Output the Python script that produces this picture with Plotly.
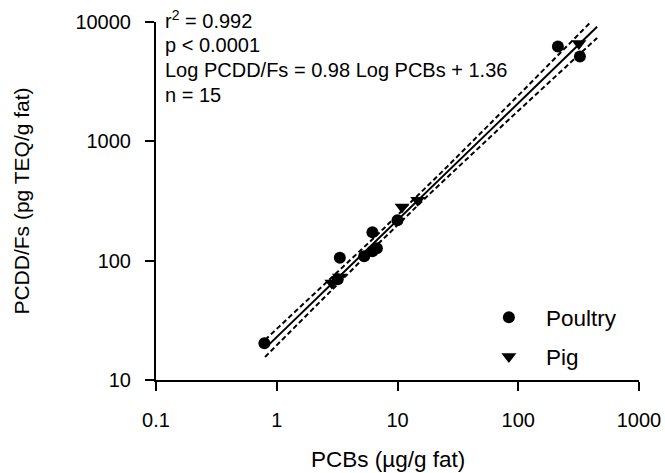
import numpy as np
import plotly.graph_objects as go

# ---- data ----
poultry_x = [0.79, 3.33, 3.2, 5.3, 6.2, 6.75, 6.2, 10.0, 213, 324]
poultry_y = [20.3, 106, 70, 109, 120, 127, 173, 218, 6240, 5140]
pig_x = [2.86, 3.3, 10.9, 14.7, 318]
pig_y = [65, 73, 281, 321, 6610]

slope = 0.98
intercept = 1.36
r_squared = 0.992
fit_x_range = [0.8, 450]

x_tickvals = [0.1, 1, 10, 100, 1000]
x_ticktext = ["0.1", "1", "10", "100", "1000"]
y_tickvals = [10, 100, 1000, 10000]
y_ticktext = ["10", "100", "1000", "10000"]

stats_lines = [
    "r<sup>2</sup> = 0.992",
    "p < 0.0001",
    "Log PCDD/Fs = 0.98 Log PCBs + 1.36",
    "n = 15",
]

# ---- regression line and 95% confidence band in log space ----
lx = np.log10(np.array(poultry_x + pig_x))
ly = np.log10(np.array(poultry_y + pig_y))
n = len(lx)
syy = np.sum((ly - ly.mean()) ** 2)
s = np.sqrt((1 - r_squared) * syy / (n - 2))
sxx = np.sum((lx - lx.mean()) ** 2)
t = 2.16
gx = np.linspace(np.log10(fit_x_range[0]), np.log10(fit_x_range[1]), 200)
gy = slope * gx + intercept
hw = t * s * np.sqrt(1 / n + (gx - lx.mean()) ** 2 / sxx)
fx = 10 ** gx

FONT = "Liberation Sans, Arial, sans-serif"
DASH = "5px,3px"

fig = go.Figure()
fig.add_trace(go.Scatter(x=fx, y=10 ** (gy + hw), mode="lines",
                         line=dict(color="black", width=2, dash=DASH),
                         showlegend=False, hoverinfo="skip"))
fig.add_trace(go.Scatter(x=fx, y=10 ** (gy - hw), mode="lines",
                         line=dict(color="black", width=2, dash=DASH),
                         showlegend=False, hoverinfo="skip"))
fig.add_trace(go.Scatter(x=fx, y=10 ** gy, mode="lines",
                         line=dict(color="black", width=2),
                         showlegend=False, hoverinfo="skip"))
fig.add_trace(go.Scatter(x=poultry_x, y=poultry_y, mode="markers", name="Poultry",
                         legendgroup="a",
                         marker=dict(symbol="circle", size=12, color="black")))
fig.add_trace(go.Scatter(x=pig_x, y=pig_y, mode="markers", name="Pig",
                         legendgroup="b",
                         marker=dict(symbol="triangle-down", size=13, color="black")))

ys = [1.0056, 0.9358, 0.866, 0.796]
for txt, yy in zip(stats_lines, ys):
    fig.add_annotation(text=txt, xref="paper", yref="paper", x=0.015, y=yy,
                       xanchor="left", yanchor="middle", showarrow=False,
                       font=dict(size=20, color="black", family=FONT))

# x-axis title (slightly left of centre, as in the reference)
fig.add_annotation(text="PCBs (µg/g fat)", xref="paper", yref="paper",
                   x=0.48, y=-0.2207, xanchor="center", yanchor="middle",
                   showarrow=False, font=dict(size=22.5, color="black", family=FONT))

fig.update_layout(
    width=665, height=473,
    margin=dict(l=156, r=26, t=22, b=93, autoexpand=False),
    plot_bgcolor="white", paper_bgcolor="white",
    font=dict(family=FONT, color="black", size=20),
    legend=dict(x=0.654, y=0.2346, xanchor="left", yanchor="top",
                bgcolor="rgba(0,0,0,0)", font=dict(size=22.5),
                itemwidth=64, tracegroupgap=7),
)
fig.update_xaxes(type="log", range=[-1, 3], tickvals=x_tickvals, ticktext=x_ticktext,
                 showgrid=False, zeroline=False, showline=True, linecolor="black",
                 linewidth=2, ticks="outside", ticklen=9, tickwidth=2, tickcolor="black",
                 ticklabelstandoff=12, tickfont=dict(size=20), automargin=False)
fig.update_yaxes(type="log", range=[1, 4], tickvals=y_tickvals, ticktext=y_ticktext,
                 showgrid=False, zeroline=False, showline=True, linecolor="black",
                 linewidth=2, ticks="outside", ticklen=9, tickwidth=2, tickcolor="black",
                 ticklabelstandoff=10, tickfont=dict(size=20), automargin=False,
                 title=dict(text="PCDD/Fs (pg TEQ/g fat)", font=dict(size=21), standoff=40))

fig.write_html("out.html")
